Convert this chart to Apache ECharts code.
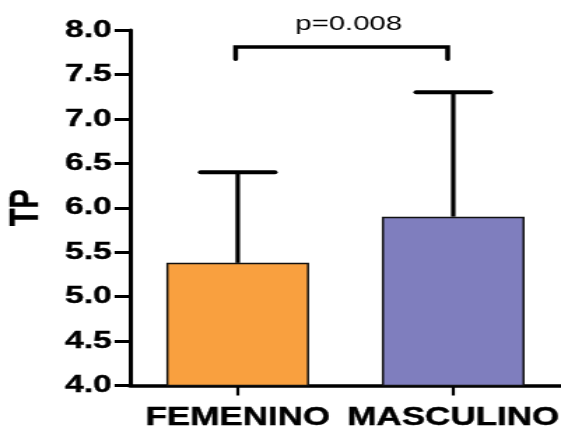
<!DOCTYPE html>
<html>
<head>
<meta charset="utf-8">
<script src="https://cdn.jsdelivr.net/npm/echarts@6/dist/echarts.min.js"></script>
<style>
html,body{margin:0;padding:0;background:#fff;overflow:hidden;}
#c{width:401px;height:429px;transform:scaleX(1.399);transform-origin:0 0;}
</style>
</head>
<body>
<div id="c"></div>
<script>
// ---- data ----
const categories = ['FEMENINO', 'MASCULINO'];
const meanValues = [5.38, 5.90];
const upperErrorValues = [6.40, 7.30];
const yMin = 4.0;
const yMax = 8.0;
const yStep = 0.5;
const bracketLevel = [7.81];
const bracketLegEnd = [7.67];
const pLabelText = ['p=0.008'];
const pLabelLevel = [8.07];

// ---- styles ----
const barColors = ['#F9A03F', '#7F7EBE'];
const FONT = '"Liberation Sans", Arial, Helvetica, sans-serif';

const chart = echarts.init(document.getElementById('c'), null, {renderer: 'canvas'});

const option = {
  backgroundColor: '#ffffff',
  animation: false,
  grid: {left: 92.9, right: 0, top: 30, bottom: 43.5, containLabel: false, outerBoundsMode: 'none'},
  xAxis: {
    type: 'category',
    data: categories,
    axisLine: {show: true, lineStyle: {color: '#000', width: 3.5}},
    axisTick: {show: true, alignWithLabel: true, length: 10, lineStyle: {color: '#000', width: 2.2}},
    axisLabel: {color: '#000', fontFamily: FONT, fontWeight: 'bold', fontSize: 25, margin: 20, interval: 0,
                textBorderColor: '#000', textBorderWidth: 0.4},
    splitLine: {show: false}
  },
  yAxis: {
    type: 'value',
    min: yMin, max: yMax, interval: yStep,
    name: 'TP',
    nameLocation: 'middle',
    nameGap: 59,
    nameTextStyle: {color: '#000', fontFamily: FONT, fontWeight: 'bold', fontSize: 29,
                    textBorderColor: '#000', textBorderWidth: 0.4},
    axisLine: {show: true, lineStyle: {color: '#000', width: 3}},
    axisTick: {show: true, length: 11, lineStyle: {color: '#000', width: 3}},
    axisLabel: {
      color: '#000', fontFamily: FONT, fontWeight: 'bold', fontSize: 24, margin: 13,
      textBorderColor: '#000', textBorderWidth: 0.4,
      formatter: v => v.toFixed(1)
    },
    splitLine: {show: false}
  },
  series: [
    {
      type: 'bar',
      barWidth: 102,
      data: meanValues.map((v, i) => ({
        value: v,
        itemStyle: {color: barColors[i], borderColor: '#111', borderWidth: 1.5}
      })),
      z: 2
    },
    {
      type: 'custom',
      clip: false,
      z: 3,
      data: categories.map((c, i) => [i, meanValues[i], upperErrorValues[i]]),
      renderItem: function (params, api) {
        const base = api.coord([api.value(0), api.value(1)]);
        const top = api.coord([api.value(0), api.value(2)]);
        const half = 26.5;
        return {
          type: 'group',
          children: [
            {type: 'line', shape: {x1: base[0], y1: base[1], x2: top[0], y2: top[1]},
             style: {stroke: '#000', lineWidth: 3.2}},
            {type: 'line', shape: {x1: top[0] - half, y1: top[1], x2: top[0] + half, y2: top[1]},
             style: {stroke: '#000', lineWidth: 4, lineCap: 'round'}}
          ]
        };
      }
    },
    {
      type: 'custom',
      clip: false,
      z: 4,
      data: [[0, 1, bracketLevel[0], bracketLegEnd[0], pLabelLevel[0]]],
      renderItem: function (params, api) {
        const l = api.coord([api.value(0), api.value(2)]);
        const r = api.coord([api.value(1), api.value(2)]);
        const legY = api.coord([api.value(0), api.value(3)])[1];
        const textY = api.coord([api.value(0), api.value(4)])[1];
        const lx = l[0] - 1.5, rx = r[0] - 4;
        return {
          type: 'group',
          children: [
            {type: 'polyline',
             shape: {points: [[lx, legY], [lx, l[1]], [rx, l[1]], [rx, legY]]},
             style: {stroke: '#000', lineWidth: 3.5, fill: null, lineJoin: 'miter', lineCap: 'round'}},
            {type: 'text',
             style: {text: pLabelText[0], x: (lx + rx) / 2 + 5, y: textY,
                     fill: '#000', fontFamily: FONT, fontSize: 21,
                     align: 'center', verticalAlign: 'middle'}}
          ]
        };
      }
    }
  ]
};
chart.setOption(option);
</script>
</body>
</html>
